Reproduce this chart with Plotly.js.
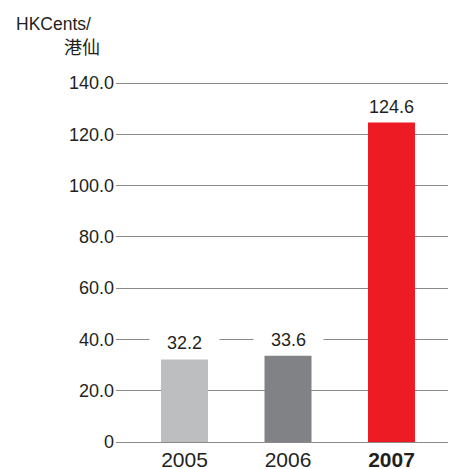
<!DOCTYPE html>
<html>
<head>
<meta charset="utf-8">
<script src="https://cdn.plot.ly/plotly-3.0.1.min.js"></script>
<style>html,body{margin:0;padding:0;background:#fff;}#chart{width:449px;height:469px;}</style>
</head>
<body>
<div id="chart"></div>
<script>
var years = ['2005', '2006', '2007'];
var yearLabels = ['2005', '2006', '<b>2007</b>'];
var values = [32.2, 33.6, 124.6];
var valueLabels = ['32.2', '33.6', '124.6'];
var barColors = ['#bcbec0', '#808285', '#ed1c24'];
var yTicks = [0, 20, 40, 60, 80, 100, 120, 140];
var yTickLabels = ['0', '20.0', '40.0', '60.0', '80.0', '100.0', '120.0', '140.0'];

var W = 449, H = 469;
var L = 116, R = 1, T = 82, B = 27;
var pw = W - L - R, ph = H - T - B;
function px(x) { return (x - L) / pw; }
function py(y) { return (H - B - y) / ph; }

var textColor = '#231f20';
var fontFam = 'Liberation Sans, Arial, sans-serif';

var annotations = years.map(function (yr, i) {
  return {
    x: i, y: values[i], xref: 'x', yref: 'y',
    text: valueLabels[i], showarrow: false,
    xanchor: 'center', yanchor: 'bottom', valign: 'bottom',
    bgcolor: '#ffffff', width: 69, height: 26, borderpad: 0, yshift: 5,
    font: { family: fontFam, size: 18, color: textColor }
  };
});
annotations.push({
  xref: 'paper', yref: 'paper', x: px(14), y: py(12), xanchor: 'left', yanchor: 'top',
  text: 'HKCents/', showarrow: false,
  font: { family: fontFam, size: 17.5, color: textColor }
});
annotations.push({
  xref: 'paper', yref: 'paper', x: px(62), y: py(31), xanchor: 'left', yanchor: 'top',
  text: '港仙', showarrow: false,
  font: { family: 'Noto Sans CJK TC, sans-serif', size: 18, color: textColor }
});

var trace = {
  type: 'bar', x: years, y: values,
  marker: { color: barColors, line: { width: 0 } },
  width: 0.454, hoverinfo: 'none'
};

var layout = {
  width: W, height: H,
  margin: { l: L, r: R, t: T, b: B, pad: 0 },
  paper_bgcolor: '#ffffff', plot_bgcolor: '#ffffff',
  showlegend: false,
  font: { family: fontFam, color: textColor, size: 18 },
  xaxis: {
    type: 'category', range: [-0.662, 2.546],
    tickvals: years, ticktext: yearLabels,
    showgrid: false, zeroline: false, showline: false, ticks: '',
    ticklabelstandoff: 3,
    tickfont: { size: 21, color: textColor, family: fontFam }
  },
  yaxis: {
    range: [0, 140.4], tickvals: yTicks, ticktext: yTickLabels,
    showgrid: true, gridcolor: '#8a8a8a', gridwidth: 1,
    zeroline: true, zerolinecolor: '#8a8a8a', zerolinewidth: 1,
    showline: false, ticks: '', ticklabelstandoff: 1,
    tickfont: { size: 18, color: textColor, family: fontFam }
  },
  annotations: annotations
};

Plotly.newPlot('chart', [trace], layout, { staticPlot: true, displayModeBar: false });
</script>
</body>
</html>
